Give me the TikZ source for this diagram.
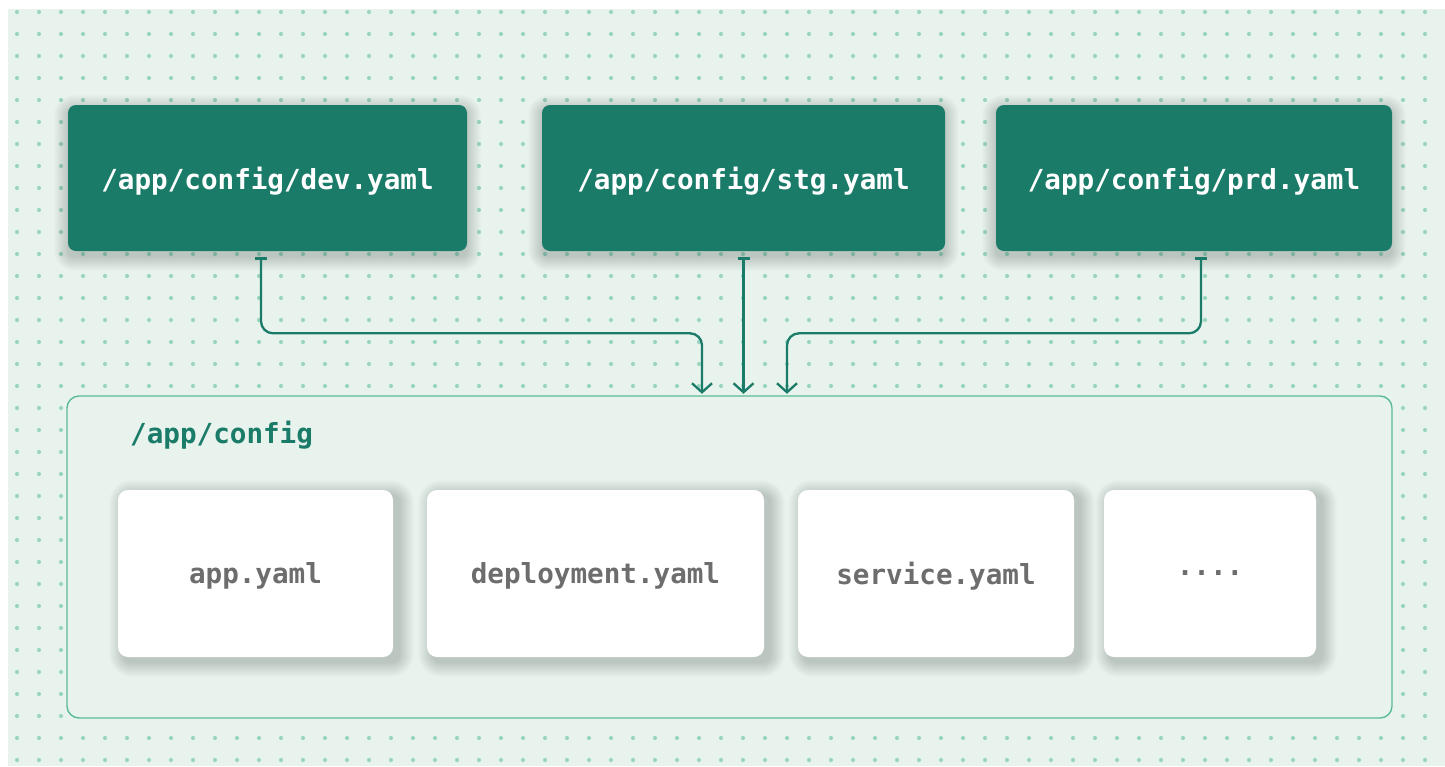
\documentclass[tikz,border=0pt]{standalone}
\usepackage{fontspec}
\setmonofont{DejaVu Sans Mono}
\usetikzlibrary{arrows.meta}
\definecolor{CfgGreen}{HTML}{1A7B69}
\definecolor{CfgEdge}{HTML}{5CBB95}
\definecolor{CfgDot}{HTML}{9DD6BF}
\definecolor{CfgPale}{HTML}{E8F3EE}
\definecolor{CfgGrey}{HTML}{6D6D6D}
\pgfdeclarelayer{shade}
\pgfsetlayers{shade,main}
\tikzset{
  envfile/.style={rounded corners=8pt, fill=CfgGreen, text=white, minimum height=146pt, inner sep=0pt, text depth=0pt},
  basefile/.style={rounded corners=10pt, fill=white, text=CfgGrey, minimum height=167pt, inner sep=0pt, text depth=0pt},
  folder/.style={rounded corners=12pt, draw=CfgEdge, fill=CfgPale, line width=1.4pt, inner sep=0pt},
  haze/.style={fill=black!80!CfgGreen, opacity=0.013},
  link/.style={{Bar[width=12pt,line width=2.3pt]}-{Straight Barb[length=9pt,width=20pt,line width=2.3pt]}, line width=2.3pt,
               draw=CfgGreen, rounded corners=12pt, shorten <=6pt, shorten >=1.5pt},
}
\begin{document}
\begin{tikzpicture}[x=1pt,y=-1pt,font=\ttfamily\bfseries\fontsize{27.6}{32}\selectfont]
    \begin{pgfonlayer}{shade}
      \useasboundingbox (0,0) rectangle (1445,766);
      \fill[CfgPale] (8,9) rectangle (1445,766);
      \foreach \i in {0,...,64} {
        \foreach \j in {0,...,34} {
          \fill[CfgDot] (17+22*\i,12+22*\j) circle[radius=2.1pt];
        }
      }
    \end{pgfonlayer}
    \node[envfile,minimum width=399pt] (dev) at (267.5,178) {/app/config/dev.yaml};
    \node[envfile,minimum width=403pt] (stg) at (743.5,178) {/app/config/stg.yaml};
    \node[envfile,minimum width=396pt] (prd) at (1194,178) {/app/config/prd.yaml};
    \begin{pgfonlayer}{shade}
      \foreach \n in {dev,stg,prd} {
        \foreach \k [evaluate=\k as \r using 6+\k] in {1,...,15} {
          \fill[haze,rounded corners=\r pt] ([shift={(-\k+1,\k+5)}]\n.south west) rectangle ([shift={(\k-1,5-\k)}]\n.north east);
        }
      }
    \end{pgfonlayer}
    \node[folder,minimum width=1325pt,minimum height=322pt] (cfg) at (729.5,557) {};
    \node[anchor=base west,text=CfgGreen,inner sep=0pt] (cfgname) at (130,443) {/app/config};
    \foreach \k [evaluate=\k as \r using 8+\k] in {1,...,15} {
      \fill[haze,rounded corners=\r pt] (118-\k+6,657+\k+5) rectangle (393+\k+6,490-\k+5);
      \fill[haze,rounded corners=\r pt] (427-\k+6,657+\k+5) rectangle (764+\k+6,490-\k+5);
      \fill[haze,rounded corners=\r pt] (798-\k+6,657+\k+5) rectangle (1074+\k+6,490-\k+5);
      \fill[haze,rounded corners=\r pt] (1104-\k+6,657+\k+5) rectangle (1316+\k+6,490-\k+5);
    }
    \node[basefile,minimum width=275pt] (app) at (255.5,573.5) {app.yaml};
    \node[basefile,minimum width=337pt] (deploy) at (595.5,573.5) {deployment.yaml};
    \node[basefile,minimum width=276pt] (svc) at (936,573.5) {service.yaml};
    \node[basefile,minimum width=212pt] (more) at (1210,573.5) {....};
    \draw[link] ([xshift=-6.5pt]dev.south) |- ([xshift=-27.5pt,yshift=62pt]cfg.north) -- ([xshift=-27.5pt]cfg.north);
    \draw[link] (stg.south) -- (stg.south |- cfg.north);
    \draw[link] ([xshift=7pt]prd.south) |- ([xshift=57.5pt,yshift=62pt]cfg.north) -- ([xshift=57.5pt]cfg.north);
\end{tikzpicture}
\end{document}
